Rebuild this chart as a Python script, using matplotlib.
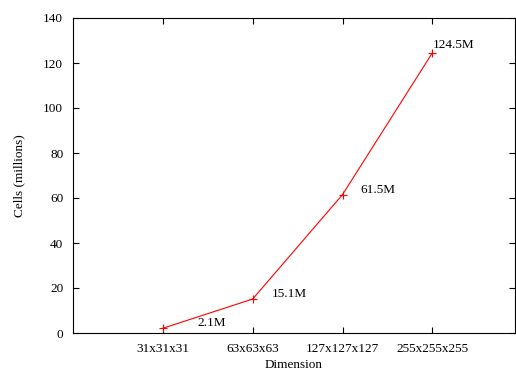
import matplotlib
matplotlib.use('Agg')
import matplotlib.pyplot as plt

plt.rcParams['font.family'] = ['Liberation Serif', 'DejaVu Serif']

dims = ['31x31x31', '63x63x63', '127x127x127', '255x255x255']
cells = [2.1, 15.1, 61.5, 124.5]
labels = ['2.1M', '15.1M', '61.5M', '124.5M']
# label offsets in pixels (dx, dy), text left-aligned
offsets = [(35, 5), (19, 5), (18, 5), (0, 8)]

fig = plt.figure(figsize=(5.16, 3.72), dpi=100)
ax = fig.add_axes([73 / 516, 1 - 333 / 372, (515 - 73) / 516, (333 - 18) / 372])

x = list(range(1, len(dims) + 1))
ax.plot(x, cells, color='red', lw=0.8, marker='+', ms=6, mew=0.8)
for xi, yi, lab, (dx, dy) in zip(x, cells, labels, offsets):
    ax.annotate(lab, (xi, yi), xytext=(dx * 0.72, dy * 0.72), textcoords='offset points',
                fontsize=9.5, ha='left', va='center')

ax.set_xlim(0, 4.92)
ax.set_ylim(0, 140)
ax.set_xticks(x)
ax.set_xticklabels(dims)
ax.set_yticks(range(0, 141, 20))
ax.tick_params(direction='in', length=4, labelsize=9.5, top=True, right=True, pad=7)
ax.set_xlabel('Dimension', fontsize=9.5, labelpad=3)
ax.set_ylabel('Cells (millions)', fontsize=9.5, labelpad=13)
for s in ax.spines.values():
    s.set_linewidth(0.8)

fig.savefig('out.png', dpi=100)
